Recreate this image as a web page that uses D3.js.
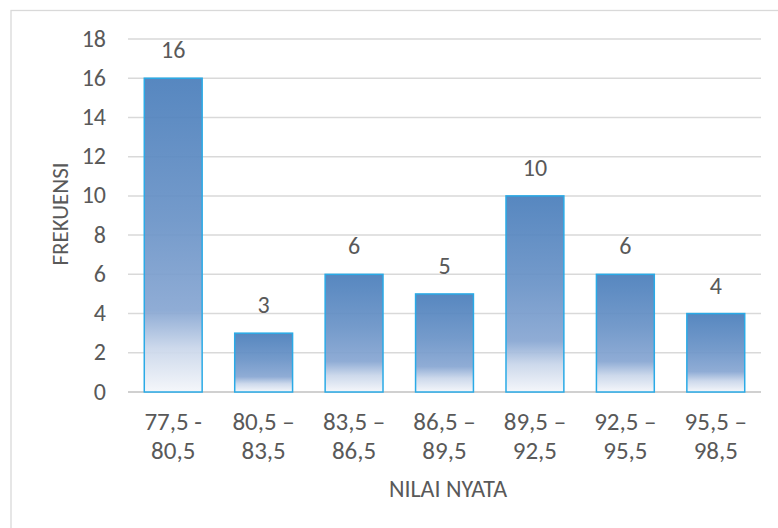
<!DOCTYPE html>
<html><head><meta charset="utf-8">
<script src="https://cdn.jsdelivr.net/npm/d3@7"></script>
<style>
html,body{margin:0;padding:0;background:#fff;}
svg text{font-family:Carlito,Lato,"Open Sans",sans-serif;fill:#595959;}
</style></head>
<body><svg id="c" width="778" height="528"></svg>
<script>
const categories = [["77,5 -","80,5"],["80,5 –","83,5"],["83,5 –","86,5"],["86,5 –","89,5"],["89,5 –","92,5"],["92,5 –","95,5"],["95,5 –","98,5"]];
const values = [16,3,6,5,10,6,4];
const yTicks = [0,2,4,6,8,10,12,14,16,18];
const yTitle = "FREKUENSI";
const xTitle = "NILAI NYATA";

(function(){
const svg = d3.select("#c");
const FS = 24;
// chart frame
svg.append("rect").attr("x",11).attr("y",10.5).attr("width",800).attr("height",600)
  .attr("fill","none").attr("stroke","#d9d9d9").attr("stroke-width",1.3);

const pL=128, pR=761, pT=39, pB=392;
const x = d3.scaleBand().domain(d3.range(values.length)).range([pL,pR]).paddingInner(0.36).paddingOuter(0.18);
const y = d3.scaleLinear().domain([0,18]).range([pB,pT]);

const defs = svg.append("defs");
const g = defs.append("linearGradient").attr("id","bg").attr("x1",0).attr("y1",0).attr("x2",0).attr("y2",1);
[[0,"#4a7ebb"],[0.45,"#6a93c7"],[0.74,"#87a6d2"],[0.86,"#c9d6ea"],[1,"#f4f6fa"]].forEach(([o,c])=>
  g.append("stop").attr("offset",o).attr("stop-color",c));

// gridlines
svg.append("g").selectAll("line").data(yTicks).join("line")
  .attr("x1",pL).attr("x2",pR).attr("y1",d=>y(d)).attr("y2",d=>y(d))
  .attr("stroke",d=>d===0?"#d0d0d0":"#d9d9d9").attr("stroke-width",d=>d===0?2:1.5);

// bars
svg.append("g").selectAll("rect").data(values).join("rect")
  .attr("x",(d,i)=>x(i)).attr("width",x.bandwidth())
  .attr("y",d=>y(d)).attr("height",d=>y(0)-y(d))
  .attr("fill","url(#bg)").attr("fill-opacity",0.93)
  .attr("stroke","#2aaae6").attr("stroke-width",1.5);

// value labels
svg.append("g").selectAll("text").data(values).join("text")
  .attr("x",(d,i)=>x(i)+x.bandwidth()/2).attr("y",d=>y(d)-20)
  .attr("text-anchor","middle").attr("font-size",FS).text(d=>d);

// y axis labels
svg.append("g").selectAll("text").data(yTicks).join("text")
  .attr("x",106).attr("y",d=>y(d)+7.5).attr("text-anchor","end")
  .attr("font-size",FS).text(d=>d);

// x labels
const xl = svg.append("g").selectAll("text").data(categories).join("text")
  .attr("x",(d,i)=>x(i)+x.bandwidth()/2).attr("y",430)
  .attr("text-anchor","middle").attr("font-size",FS+1);
xl.selectAll("tspan").data(d=>d).join("tspan")
  .attr("x",function(){return this.parentNode.getAttribute("x");})
  .attr("dy",(d,j)=>j===0?0:29).text(d=>d);

// titles
svg.append("text").attr("transform","translate(68,214) rotate(-90)")
  .attr("text-anchor","middle").attr("font-size",FS-1).text(yTitle);
svg.append("text").attr("x",448).attr("y",497).attr("text-anchor","middle")
  .attr("font-size",FS).text(xTitle);
})();
</script></body></html>
